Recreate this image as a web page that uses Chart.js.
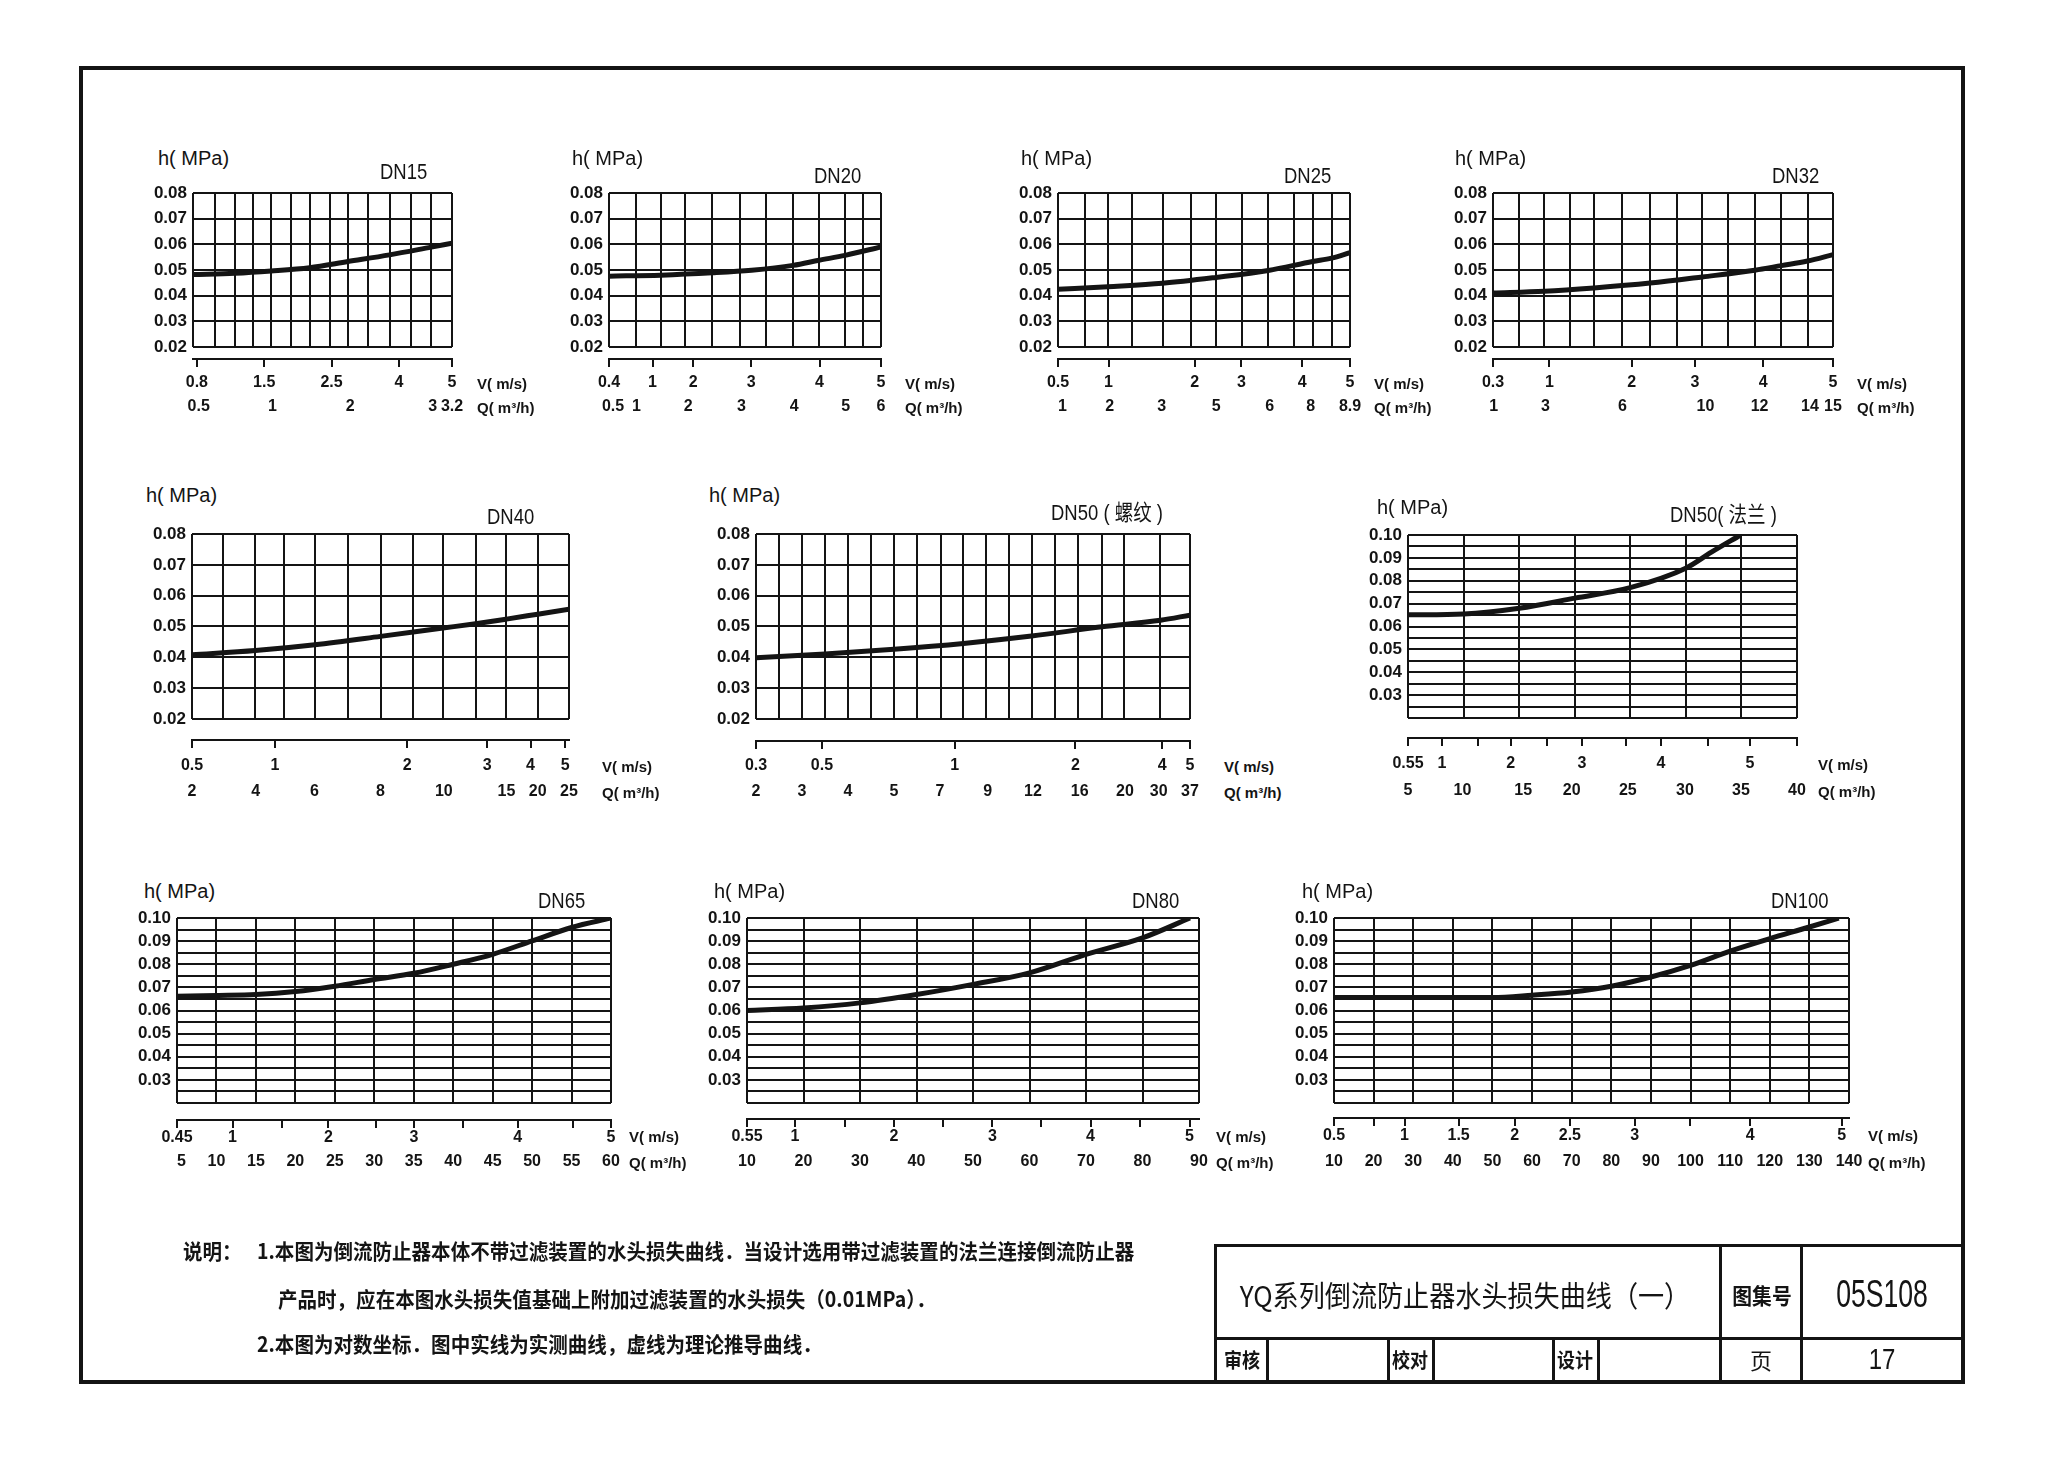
<!DOCTYPE html>
<html>
<head>
<meta charset="utf-8">
<title>YQ系列倒流防止器水头损失曲线（一）</title>
<script src="https://cdn.jsdelivr.net/npm/chart.js@4.4.1/dist/chart.umd.min.js"></script>
<style>
  html, body { margin: 0; padding: 0; background: #fff; }
  body { position: relative; width: 2048px; height: 1457px; overflow: hidden;
         font-family: 'Liberation Sans', Arial, 'Noto Sans CJK SC', sans-serif; color: #141414; }
  canvas { position: absolute; }
  .t { position: absolute; white-space: nowrap; line-height: 1; }
  .rule { position: absolute; background: #141414; }
</style>
</head>
<body>
<script>
// h axis rows (MPa)
const hRows = [0.02, 0.03, 0.04, 0.05, 0.06, 0.07, 0.08];
const hRowText = ['0.02', '0.03', '0.04', '0.05', '0.06', '0.07', '0.08'];
const hRowsFine = [0.02, 0.025, 0.03, 0.035, 0.04, 0.045, 0.05, 0.055, 0.06, 0.065, 0.07, 0.075, 0.08, 0.085, 0.09, 0.095, 0.10];
const hRowFineText = ['', '', '0.03', '', '0.04', '', '0.05', '', '0.06', '', '0.07', '', '0.08', '', '0.09', '', '0.10'];

// position along each chart's width runs 0..1
// DN15
const dn15Grid = [0, 0.084, 0.161, 0.232, 0.302, 0.377, 0.450, 0.528, 0.598, 0.676, 0.759, 0.843, 0.920, 1];
const dn15VPos = [0.015, 0.275, 0.535, 0.795, 1];
const dn15VText = ['0.8', '1.5', '2.5', '4', '5'];
const dn15QPos = [0.022, 0.307, 0.607, 0.925, 1];
const dn15QText = ['0.5', '1', '2', '3', '3.2'];
const dn15Head = [[0, 0.0482], [0.161, 0.0487], [0.302, 0.0496], [0.45, 0.0509], [0.598, 0.0533], [0.759, 0.0559], [0.92, 0.0589], [1, 0.0604]];

// DN20
const dn20Grid = [0, 0.098, 0.190, 0.281, 0.380, 0.483, 0.579, 0.677, 0.772, 0.868, 0.933, 1];
const dn20VPos = [0, 0.160, 0.310, 0.523, 0.774, 1];
const dn20VText = ['0.4', '1', '2', '3', '4', '5'];
const dn20QPos = [0.015, 0.101, 0.291, 0.487, 0.681, 0.870, 1];
const dn20QText = ['0.5', '1', '2', '3', '4', '5', '6'];
const dn20Head = [[0, 0.0476], [0.19, 0.048], [0.38, 0.0489], [0.524, 0.0499], [0.677, 0.0518], [0.772, 0.0538], [0.868, 0.0557], [1, 0.059]];

// DN25
const dn25Grid = [0, 0.091, 0.171, 0.254, 0.358, 0.454, 0.541, 0.629, 0.72, 0.809, 0.872, 0.937, 1];
const dn25VPos = [0, 0.173, 0.468, 0.628, 0.836, 1];
const dn25VText = ['0.5', '1', '2', '3', '4', '5'];
const dn25QPos = [0.015, 0.177, 0.355, 0.542, 0.725, 0.865, 1];
const dn25QText = ['1', '2', '3', '5', '6', '8', '8.9'];
const dn25Head = [[0, 0.0425], [0.171, 0.0435], [0.358, 0.0448], [0.541, 0.0471], [0.72, 0.0498], [0.872, 0.0533], [0.937, 0.0546], [1, 0.0568]];

// DN32
const dn32Grid = [0, 0.075, 0.151, 0.225, 0.297, 0.379, 0.462, 0.540, 0.616, 0.692, 0.770, 0.848, 0.925, 1];
const dn32VPos = [0, 0.166, 0.408, 0.594, 0.795, 1];
const dn32VText = ['0.3', '1', '2', '3', '4', '5'];
const dn32QPos = [0.002, 0.154, 0.381, 0.625, 0.784, 0.932, 1];
const dn32QText = ['1', '3', '6', '10', '12', '14', '15'];
const dn32Head = [[0, 0.041], [0.151, 0.0417], [0.297, 0.043], [0.462, 0.0449], [0.616, 0.0473], [0.77, 0.0499], [0.848, 0.0517], [0.925, 0.0535], [1, 0.056]];

// DN40
const dn40Grid = [0, 0.083, 0.168, 0.245, 0.326, 0.413, 0.5, 0.586, 0.666, 0.752, 0.834, 0.917, 1];
const dn40VPos = [0, 0.22, 0.571, 0.783, 0.898, 0.99];
const dn40VText = ['0.5', '1', '2', '3', '4', '5'];
const dn40QPos = [0, 0.169, 0.325, 0.5, 0.668, 0.834, 0.917, 1];
const dn40QText = ['2', '4', '6', '8', '10', '15', '20', '25'];
const dn40Head = [[0, 0.0408], [0.168, 0.0422], [0.326, 0.0441], [0.5, 0.0468], [0.666, 0.0495], [0.752, 0.0509], [0.834, 0.0524], [0.917, 0.054], [1, 0.0556]];

// DN50 (螺纹)
const dn50tGrid = [0, 0.054, 0.106, 0.159, 0.212, 0.266, 0.318, 0.371, 0.426, 0.478, 0.530, 0.584, 0.635, 0.690, 0.742, 0.797, 0.848, 0.932, 1];
const dn50tVPos = [0, 0.152, 0.458, 0.736, 0.936, 1];
const dn50tVText = ['0.3', '0.5', '1', '2', '4', '5'];
const dn50tQPos = [0, 0.106, 0.212, 0.318, 0.424, 0.534, 0.638, 0.746, 0.850, 0.928, 1];
const dn50tQText = ['2', '3', '4', '5', '7', '9', '12', '16', '20', '30', '37'];
const dn50tHead = [[0, 0.0399], [0.159, 0.0411], [0.318, 0.0426], [0.478, 0.0445], [0.635, 0.0469], [0.797, 0.0499], [0.932, 0.052], [1, 0.0537]];

// DN50 (法兰)
const dn50fGrid = [0, 0.143, 0.286, 0.429, 0.571, 0.714, 0.857, 1];
const dn50fVPos = [0, 0.087, 0.180, 0.264, 0.358, 0.447, 0.561, 0.650, 0.771, 0.879, 1];
const dn50fVText = ['0.55', '1', '', '2', '', '3', '', '4', '', '5', ''];
const dn50fQPos = [0, 0.14, 0.296, 0.421, 0.565, 0.712, 0.856, 1];
const dn50fQText = ['5', '10', '15', '20', '25', '30', '35', '40'];
const dn50fHead = [[0, 0.0651], [0.143, 0.0655], [0.286, 0.068], [0.429, 0.0724], [0.571, 0.077], [0.714, 0.0855], [0.78, 0.0925], [0.855, 0.10]];

// DN65
const dn65Grid = [0, 0.0909, 0.1818, 0.2727, 0.3636, 0.4545, 0.5455, 0.6364, 0.7273, 0.8182, 0.9091, 1];
const dn65VPos = [0, 0.128, 0.241, 0.349, 0.459, 0.546, 0.659, 0.785, 0.912, 1];
const dn65VText = ['0.45', '1', '', '2', '', '3', '', '4', '', '5'];
const dn65QPos = [0.01, 0.0909, 0.1818, 0.2727, 0.3636, 0.4545, 0.5455, 0.6364, 0.7273, 0.8182, 0.9091, 1];
const dn65QText = ['5', '10', '15', '20', '25', '30', '35', '40', '45', '50', '55', '60'];
const dn65Head = [[0, 0.0662], [0.0909, 0.0665], [0.1818, 0.0669], [0.2727, 0.0682], [0.3636, 0.0705], [0.4545, 0.0734], [0.5455, 0.0761], [0.6364, 0.080], [0.7273, 0.0843], [0.8182, 0.0901], [0.9091, 0.0959], [1, 0.10]];

// DN80
const dn80Grid = [0, 0.125, 0.25, 0.375, 0.5, 0.625, 0.75, 0.875, 1];
const dn80VPos = [0, 0.106, 0.216, 0.325, 0.433, 0.543, 0.651, 0.760, 0.870, 0.979];
const dn80VText = ['0.55', '1', '', '2', '', '3', '', '4', '', '5'];
const dn80QPos = [0, 0.125, 0.25, 0.375, 0.5, 0.625, 0.75, 0.875, 1];
const dn80QText = ['10', '20', '30', '40', '50', '60', '70', '80', '90'];
const dn80Head = [[0, 0.060], [0.125, 0.0611], [0.25, 0.0633], [0.375, 0.0669], [0.5, 0.0713], [0.625, 0.0763], [0.75, 0.0843], [0.875, 0.0914], [0.98, 0.10]];

// DN100
const dn100Grid = [0, 0.0769, 0.1538, 0.2308, 0.3077, 0.3846, 0.4615, 0.5385, 0.6154, 0.6923, 0.7692, 0.8462, 0.9231, 1];
const dn100VPos = [0, 0.077, 0.137, 0.242, 0.351, 0.458, 0.584, 0.691, 0.808, 0.986];
const dn100VText = ['0.5', '', '1', '1.5', '2', '2.5', '3', '', '4', '5'];
const dn100QPos = [0, 0.0769, 0.1538, 0.2308, 0.3077, 0.3846, 0.4615, 0.5385, 0.6154, 0.6923, 0.7692, 0.8462, 0.9231, 1];
const dn100QText = ['10', '20', '30', '40', '50', '60', '70', '80', '90', '100', '110', '120', '130', '140'];
const dn100Head = [[0, 0.0656], [0.1538, 0.0656], [0.3077, 0.0656], [0.3846, 0.0666], [0.4615, 0.068], [0.5385, 0.0705], [0.6154, 0.0745], [0.6923, 0.0795], [0.7692, 0.0857], [0.8462, 0.0911], [0.9231, 0.0961], [0.98, 0.10]];

const ink = '#141414';

const charts = [
  { title: 'DN15', grid: dn15Grid, vPos: dn15VPos, vText: dn15VText, qPos: dn15QPos, qText: dn15QText, head: dn15Head,
    rows: hRows, rowText: hRowText, top: 0.08,
    box: { l: 193, r: 452, t: 193, b: 347, axis: 359, v: 383, q: 407 }, titleAt: [380, 172], hAt: [158, 158], unitX: 477 },
  { title: 'DN20', grid: dn20Grid, vPos: dn20VPos, vText: dn20VText, qPos: dn20QPos, qText: dn20QText, head: dn20Head,
    rows: hRows, rowText: hRowText, top: 0.08,
    box: { l: 609, r: 881, t: 193, b: 347, axis: 359, v: 383, q: 407 }, titleAt: [814, 176], hAt: [572, 158], unitX: 905 },
  { title: 'DN25', grid: dn25Grid, vPos: dn25VPos, vText: dn25VText, qPos: dn25QPos, qText: dn25QText, head: dn25Head,
    rows: hRows, rowText: hRowText, top: 0.08,
    box: { l: 1058, r: 1350, t: 193, b: 347, axis: 359, v: 383, q: 407 }, titleAt: [1284, 176], hAt: [1021, 158], unitX: 1374 },
  { title: 'DN32', grid: dn32Grid, vPos: dn32VPos, vText: dn32VText, qPos: dn32QPos, qText: dn32QText, head: dn32Head,
    rows: hRows, rowText: hRowText, top: 0.08,
    box: { l: 1493, r: 1833, t: 193, b: 347, axis: 359, v: 383, q: 407 }, titleAt: [1772, 176], hAt: [1455, 158], unitX: 1857 },
  { title: 'DN40', grid: dn40Grid, vPos: dn40VPos, vText: dn40VText, qPos: dn40QPos, qText: dn40QText, head: dn40Head,
    rows: hRows, rowText: hRowText, top: 0.08,
    box: { l: 192, r: 569, t: 534, b: 719, axis: 740, v: 766, q: 792 }, titleAt: [487, 517], hAt: [146, 495], unitX: 602 },
  { title: 'DN50 ( 螺纹 )', grid: dn50tGrid, vPos: dn50tVPos, vText: dn50tVText, qPos: dn50tQPos, qText: dn50tQText, head: dn50tHead,
    rows: hRows, rowText: hRowText, top: 0.08,
    box: { l: 756, r: 1190, t: 534, b: 719, axis: 741, v: 766, q: 792 }, titleAt: [1051, 513], hAt: [709, 495], unitX: 1224 },
  { title: 'DN50( 法兰 )', grid: dn50fGrid, vPos: dn50fVPos, vText: dn50fVText, qPos: dn50fQPos, qText: dn50fQText, head: dn50fHead,
    rows: hRowsFine, rowText: hRowFineText, top: 0.10,
    box: { l: 1408, r: 1797, t: 535, b: 718, axis: 738, v: 764, q: 791 }, titleAt: [1670, 515], hAt: [1377, 507], unitX: 1818 },
  { title: 'DN65', grid: dn65Grid, vPos: dn65VPos, vText: dn65VText, qPos: dn65QPos, qText: dn65QText, head: dn65Head,
    rows: hRowsFine, rowText: hRowFineText, top: 0.10,
    box: { l: 177, r: 611, t: 918, b: 1103, axis: 1120, v: 1136, q: 1162 }, titleAt: [538, 901], hAt: [144, 891], unitX: 629 },
  { title: 'DN80', grid: dn80Grid, vPos: dn80VPos, vText: dn80VText, qPos: dn80QPos, qText: dn80QText, head: dn80Head,
    rows: hRowsFine, rowText: hRowFineText, top: 0.10,
    box: { l: 747, r: 1199, t: 918, b: 1103, axis: 1119, v: 1136, q: 1162 }, titleAt: [1132, 901], hAt: [714, 891], unitX: 1216 },
  { title: 'DN100', grid: dn100Grid, vPos: dn100VPos, vText: dn100VText, qPos: dn100QPos, qText: dn100QText, head: dn100Head,
    rows: hRowsFine, rowText: hRowFineText, top: 0.10,
    box: { l: 1334, r: 1849, t: 918, b: 1103, axis: 1118, v: 1135, q: 1162 }, titleAt: [1771, 901], hAt: [1302, 891], unitX: 1868 }
];

function put(text, x, y, size, opt) {
  opt = opt || {};
  const el = document.createElement('div');
  el.className = 't';
  el.textContent = text;
  el.style.left = x + 'px';
  el.style.top = y + 'px';
  el.style.fontSize = size + 'px';
  el.style.fontWeight = opt.bold ? 'bold' : 'normal';
  if (opt.font) el.style.fontFamily = opt.font;
  el.style.transformOrigin = opt.center ? '50% 50%' : '0 50%';
  el.style.transform = 'translate(' + (opt.center ? '-50%' : '0') + ', -50%) scaleX(' + (opt.sx || 1) + ')';
  document.body.appendChild(el);
}

function rule(x, y, w, h) {
  const el = document.createElement('div');
  el.className = 'rule';
  el.style.left = x + 'px';
  el.style.top = y + 'px';
  el.style.width = w + 'px';
  el.style.height = h + 'px';
  document.body.appendChild(el);
}

function plot(c) {
  const b = c.box;
  const wy = 50, pt = 12, pr = 34, hq = 26;
  const gap = b.axis - b.b;
  const hv = b.q - b.axis - 11;
  const W = wy + (b.r - b.l) + pr;
  const H = pt + (b.b - b.t) + gap + hv + hq;
  const cv = document.createElement('canvas');
  cv.width = W;
  cv.height = H;
  cv.style.left = (b.l - wy) + 'px';
  cv.style.top = (b.t - pt) + 'px';
  document.body.appendChild(cv);

  const tickFont = { family: "'Liberation Sans', Arial, sans-serif", size: 16, weight: 'bold' };
  new Chart(cv, {
    type: 'line',
    data: {
      datasets: [{
        data: c.head.map(p => ({ x: p[0], y: p[1] })),
        borderColor: ink,
        borderWidth: 5,
        pointRadius: 0,
        cubicInterpolationMode: 'monotone',
        fill: false
      }]
    },
    options: {
      responsive: false,
      animation: false,
      events: [],
      layout: { padding: { left: 0, top: pt, right: pr, bottom: 0 } },
      plugins: { legend: { display: false }, tooltip: { enabled: false } },
      scales: {
        x: {
          type: 'linear', position: 'bottom', min: 0, max: 1, weight: 0,
          afterBuildTicks: s => { s.ticks = c.grid.map(v => ({ value: v })); },
          afterFit: s => { s.height = gap; s.paddingLeft = 0; s.paddingRight = 0; },
          ticks: { display: false },
          grid: { color: ink, lineWidth: 2, drawTicks: false },
          border: { display: false }
        },
        xv: {
          type: 'linear', position: 'bottom', min: 0, max: 1, weight: 1,
          afterBuildTicks: s => { s.ticks = c.vPos.map(v => ({ value: v })); },
          afterFit: s => { s.height = hv; s.paddingLeft = 0; s.paddingRight = 0; },
          ticks: {
            autoSkip: false, maxRotation: 0, minRotation: 0,
            padding: Math.max(0, b.v - b.axis - 18),
            color: ink, font: tickFont,
            callback: (v, i) => c.vText[i]
          },
          grid: { drawOnChartArea: false, drawTicks: true, tickLength: 8, color: ink, lineWidth: 2 },
          border: { display: true, color: ink, width: 2 }
        },
        xq: {
          type: 'linear', position: 'bottom', min: 0, max: 1, weight: 2,
          afterBuildTicks: s => { s.ticks = c.qPos.map(v => ({ value: v })); },
          afterFit: s => { s.height = hq; s.paddingLeft = 0; s.paddingRight = 0; },
          ticks: {
            autoSkip: false, maxRotation: 0, minRotation: 0, padding: 1,
            color: ink, font: tickFont,
            callback: (v, i) => c.qText[i]
          },
          grid: { display: false, drawTicks: false },
          border: { display: false }
        },
        y: {
          type: 'linear', position: 'left', min: 0.02, max: c.top,
          afterBuildTicks: s => { s.ticks = c.rows.map(v => ({ value: v })); },
          afterFit: s => { s.width = wy; s.paddingTop = 0; s.paddingBottom = 0; },
          ticks: {
            autoSkip: false, padding: 6, color: ink,
            font: { family: "'Liberation Sans', Arial, sans-serif", size: 17, weight: 'bold' },
            callback: (v, i) => c.rowText[i]
          },
          grid: { color: ink, lineWidth: 2, drawTicks: false },
          border: { display: false }
        }
      }
    }
  });

  put('h( MPa)', c.hAt[0], c.hAt[1], 20);
  put(c.title, c.titleAt[0], c.titleAt[1], 22, { sx: 0.84, font: "'Liberation Sans', 'Noto Sans CJK SC', sans-serif" });
  put('V( m/s)', c.unitX, b.v, 15, { bold: true });
  put('Q( m³/h)', c.unitX, b.q, 15, { bold: true });
}

charts.forEach(plot);

// drawing frame
const frame = document.createElement('div');
frame.style.cssText = 'position:absolute;left:79px;top:66px;width:1886px;height:1318px;border:4px solid #141414;box-sizing:border-box;';
document.body.appendChild(frame);

// notes
const cjk = "'Noto Sans CJK SC', sans-serif";
put('说明：', 183, 1250, 21, { bold: true, font: cjk, sx: 0.93 });
put('1.本图为倒流防止器本体不带过滤装置的水头损失曲线．当设计选用带过滤装置的法兰连接倒流防止器', 257, 1250, 21, { bold: true, font: cjk, sx: 0.93 });
put('产品时，应在本图水头损失值基础上附加过滤装置的水头损失（0.01MPa）．', 278, 1298, 21, { bold: true, font: cjk, sx: 0.93 });
put('2.本图为对数坐标．图中实线为实测曲线，虚线为理论推导曲线．', 257, 1343, 21, { bold: true, font: cjk, sx: 0.93 });

// title block
rule(1214, 1244, 751, 3);
rule(1214, 1244, 3, 138);
rule(1214, 1337, 751, 3);
rule(1719, 1244, 3, 138);
rule(1800, 1244, 3, 138);
[1266, 1387, 1432, 1552, 1597].forEach(x => rule(x, 1337, 3, 45));

put('YQ系列倒流防止器水头损失曲线（一）', 1465, 1294, 29, { center: true, font: cjk, sx: 0.9 });
put('图集号', 1762, 1294, 22, { center: true, bold: true, font: cjk, sx: 0.9 });
put('05S108', 1882, 1294, 38, { center: true, sx: 0.7 });
put('审核', 1242, 1360, 20, { center: true, bold: true, font: cjk, sx: 0.9 });
put('校对', 1410, 1360, 20, { center: true, bold: true, font: cjk, sx: 0.9 });
put('设计', 1575, 1360, 20, { center: true, bold: true, font: cjk, sx: 0.9 });
put('页', 1761, 1359, 22, { center: true, font: cjk });
put('17', 1882, 1359, 30, { center: true, sx: 0.8 });
</script>
</body>
</html>
